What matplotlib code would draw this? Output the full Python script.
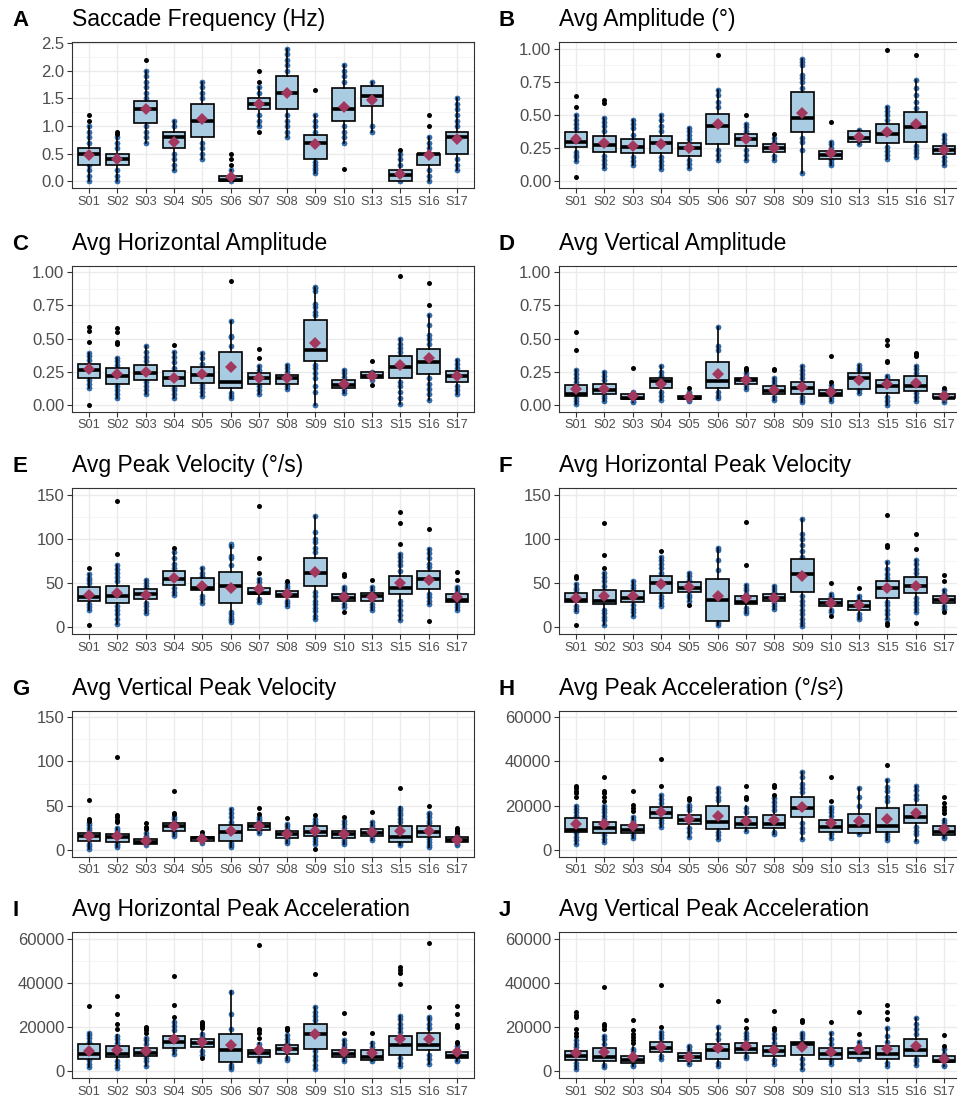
import matplotlib
matplotlib.use('Agg')
import matplotlib.pyplot as plt
import numpy as np
from matplotlib.ticker import MultipleLocator, FuncFormatter

plt.rcParams['font.family'] = ['Liberation Sans', 'DejaVu Sans']

subjects = ['S01', 'S02', 'S03', 'S04', 'S05', 'S06', 'S07', 'S08', 'S09', 'S10', 'S13', 'S15', 'S16', 'S17']

# ---------------- A: Saccade Frequency ----------------
A_q1 = [0.3, 0.3, 1.05, 0.6, 0.8, 0.0, 1.3, 1.3, 0.4, 1.1, 1.36, 0.0, 0.3, 0.5]
A_med = [0.5, 0.4, 1.3, 0.8, 1.1, 0.02, 1.4, 1.6, 0.7, 1.3, 1.55, 0.12, 0.5, 0.8]
A_q3 = [0.6, 0.5, 1.45, 0.9, 1.4, 0.1, 1.5, 1.9, 0.83, 1.68, 1.72, 0.2, 0.5, 0.9]
A_lo = [0.0, 0.0, 0.7, 0.2, 0.4, 0.0, 1.0, 0.8, 0.15, 0.7, 0.9, 0.0, 0.0, 0.2]
A_hi = [1.0, 0.8, 2.0, 1.1, 1.8, 0.2, 1.7, 2.4, 1.2, 2.1, 1.8, 0.5, 0.8, 1.5]
A_mean = [0.47, 0.40, 1.31, 0.71, 1.13, 0.07, 1.39, 1.60, 0.68, 1.35, 1.47, 0.13, 0.47, 0.76]
A_out = [[1.1, 1.2], [0.85, 0.9], [2.2], [], [], [0.3, 0.4, 0.5], [0.9, 1.8, 2.0], [], [1.65], [0.22], [], [0.57], [1.0, 1.2], []]
A_pts = [[0, 0.1, 0.2, 0.3, 0.7, 0.8, 0.9, 1.0], [0, 0.1, 0.2, 0.6, 0.7, 0.8],
         [0.7, 0.8, 0.9, 1.0, 1.5, 1.6, 1.7, 1.8, 1.9, 2.0], [0.2, 0.3, 0.4, 0.5, 1.0, 1.1],
         [0.4, 0.5, 0.6, 0.7, 1.5, 1.6, 1.7, 1.8], [0, 0.1, 0.2], [1.0, 1.1, 1.2, 1.6, 1.7],
         [0.8, 0.9, 1.0, 1.1, 1.2, 2.0, 2.1, 2.2, 2.3, 2.4], [0.15, 0.2, 0.25, 0.3, 0.35, 0.9, 1.0, 1.1, 1.2],
         [0.7, 0.8, 0.9, 1.0, 1.8, 1.9, 2.0, 2.1], [0.9, 1.0, 1.8], [0, 0.3, 0.4, 0.5],
         [0, 0.1, 0.2, 0.6, 0.7, 0.8], [0.2, 0.3, 0.4, 1.0, 1.1, 1.2, 1.3, 1.4, 1.5]]

# ---------------- B: Avg Amplitude ----------------
B_q1 = [0.26, 0.22, 0.21, 0.21, 0.19, 0.28, 0.27, 0.22, 0.37, 0.17, 0.30, 0.29, 0.30, 0.205]
B_med = [0.30, 0.275, 0.26, 0.29, 0.25, 0.42, 0.32, 0.25, 0.475, 0.20, 0.33, 0.36, 0.41, 0.235]
B_q3 = [0.37, 0.34, 0.32, 0.34, 0.29, 0.51, 0.355, 0.28, 0.67, 0.23, 0.38, 0.43, 0.525, 0.27]
B_lo = [0.15, 0.10, 0.12, 0.09, 0.10, 0.16, 0.16, 0.16, 0.06, 0.12, 0.28, 0.17, 0.18, 0.12]
B_hi = [0.50, 0.48, 0.46, 0.50, 0.40, 0.69, 0.43, 0.34, 0.92, 0.30, 0.39, 0.56, 0.76, 0.35]
B_mean = [0.32, 0.29, 0.27, 0.285, 0.25, 0.43, 0.32, 0.255, 0.515, 0.21, 0.335, 0.375, 0.43, 0.24]
B_out = [[0.03, 0.56, 0.64], [0.59, 0.61], [], [], [], [0.95], [0.50], [0.36], [], [0.45], [], [0.99], [0.95], []]
B_pts = [[0.15, 0.18, 0.2, 0.22, 0.4, 0.43, 0.46, 0.5], [0.1, 0.13, 0.16, 0.19, 0.38, 0.42, 0.45, 0.48],
         [0.12, 0.15, 0.18, 0.35, 0.4, 0.43, 0.46], [0.09, 0.12, 0.15, 0.18, 0.38, 0.42, 0.46, 0.5],
         [0.1, 0.13, 0.16, 0.32, 0.35, 0.38, 0.4], [0.16, 0.2, 0.24, 0.56, 0.6, 0.65, 0.69],
         [0.16, 0.2, 0.24, 0.38, 0.41, 0.43], [0.16, 0.19, 0.3, 0.33],
         [0.06, 0.24, 0.3, 0.33, 0.7, 0.75, 0.78, 0.8, 0.88, 0.9, 0.92], [0.12, 0.14, 0.16, 0.25, 0.28, 0.3],
         [0.28, 0.39], [0.17, 0.2, 0.23, 0.26, 0.46, 0.5, 0.53, 0.56],
         [0.18, 0.21, 0.24, 0.27, 0.55, 0.6, 0.65, 0.7, 0.76], [0.12, 0.15, 0.18, 0.29, 0.32, 0.35]]

# ---------------- C: Avg Horizontal Amplitude ----------------
C_q1 = [0.205, 0.16, 0.19, 0.145, 0.165, 0.125, 0.16, 0.16, 0.33, 0.13, 0.205, 0.20, 0.235, 0.175]
C_med = [0.26, 0.22, 0.24, 0.20, 0.225, 0.175, 0.20, 0.20, 0.41, 0.15, 0.22, 0.285, 0.32, 0.215]
C_q3 = [0.31, 0.275, 0.30, 0.255, 0.285, 0.40, 0.24, 0.225, 0.64, 0.19, 0.245, 0.37, 0.42, 0.255]
C_lo = [0.13, 0.05, 0.08, 0.05, 0.07, 0.05, 0.08, 0.12, 0.0, 0.09, 0.19, 0.01, 0.04, 0.08]
C_hi = [0.39, 0.35, 0.44, 0.40, 0.39, 0.63, 0.29, 0.30, 0.89, 0.26, 0.25, 0.50, 0.68, 0.34]
C_mean = [0.27, 0.235, 0.25, 0.20, 0.23, 0.285, 0.205, 0.20, 0.465, 0.16, 0.22, 0.30, 0.35, 0.215]
C_out = [[0.0, 0.47, 0.56, 0.59], [0.46, 0.47, 0.55, 0.58], [], [0.45], [], [0.93], [0.35, 0.42], [], [], [],
         [0.15, 0.33], [0.97], [0.75, 0.92], []]
C_pts = [[0.13, 0.16, 0.19, 0.34, 0.37, 0.39], [0.05, 0.08, 0.11, 0.14, 0.3, 0.33, 0.35],
         [0.08, 0.11, 0.14, 0.17, 0.33, 0.36, 0.4, 0.44], [0.05, 0.08, 0.11, 0.13, 0.28, 0.32, 0.36, 0.4],
         [0.07, 0.1, 0.13, 0.15, 0.31, 0.35, 0.39], [0.05, 0.07, 0.09, 0.44, 0.51, 0.52, 0.63],
         [0.08, 0.11, 0.14, 0.26, 0.29], [0.12, 0.14, 0.25, 0.28, 0.3],
         [0.0, 0.1, 0.14, 0.2, 0.24, 0.28, 0.3, 0.68, 0.7, 0.74, 0.76, 0.86, 0.88, 0.89],
         [0.09, 0.11, 0.21, 0.24, 0.26], [0.19, 0.25], [0.01, 0.05, 0.1, 0.14, 0.17, 0.4, 0.43, 0.46, 0.5],
         [0.04, 0.08, 0.12, 0.16, 0.2, 0.46, 0.5, 0.53, 0.6, 0.68], [0.08, 0.11, 0.14, 0.28, 0.31, 0.34]]

# ---------------- D: Avg Vertical Amplitude ----------------
D_q1 = [0.065, 0.08, 0.045, 0.13, 0.045, 0.13, 0.16, 0.085, 0.085, 0.065, 0.12, 0.09, 0.105, 0.05]
D_med = [0.085, 0.11, 0.055, 0.18, 0.05, 0.18, 0.19, 0.105, 0.13, 0.08, 0.205, 0.14, 0.14, 0.055]
D_q3 = [0.15, 0.16, 0.085, 0.20, 0.07, 0.32, 0.20, 0.14, 0.17, 0.11, 0.24, 0.185, 0.22, 0.085]
D_lo = [0.01, 0.03, 0.02, 0.04, 0.03, 0.05, 0.12, 0.04, 0.02, 0.03, 0.09, 0.0, 0.03, 0.02]
D_hi = [0.26, 0.25, 0.10, 0.29, 0.10, 0.59, 0.24, 0.20, 0.29, 0.15, 0.30, 0.22, 0.29, 0.11]
D_mean = [0.12, 0.12, 0.065, 0.16, 0.06, 0.235, 0.185, 0.115, 0.135, 0.095, 0.185, 0.16, 0.165, 0.065]
D_out = [[0.41, 0.55], [], [0.28], [], [0.13], [], [0.26, 0.27, 0.28], [0.26, 0.27], [], [0.17, 0.37], [],
         [0.32, 0.33, 0.45, 0.49], [0.37, 0.38, 0.39], [0.13]]
D_pts = [[0.01, 0.03, 0.05, 0.17, 0.2, 0.23, 0.26], [0.03, 0.05, 0.07, 0.19, 0.22, 0.25], [0.02, 0.03, 0.09, 0.1],
         [0.04, 0.07, 0.1, 0.22, 0.25, 0.29], [0.03, 0.04, 0.08, 0.1], [0.05, 0.07, 0.1, 0.41, 0.44, 0.59],
         [0.12, 0.14, 0.22, 0.24], [0.04, 0.06, 0.16, 0.18, 0.2], [0.02, 0.04, 0.06, 0.2, 0.23, 0.26, 0.29],
         [0.03, 0.05, 0.13, 0.15], [0.09, 0.11, 0.26, 0.28, 0.3], [0.0, 0.03, 0.06, 0.2, 0.22],
         [0.03, 0.06, 0.09, 0.24, 0.27, 0.29], [0.02, 0.04, 0.09, 0.11]]

# ---------------- E: Avg Peak Velocity ----------------
E_q1 = [30, 28, 31.6, 48.4, 42, 28, 37.2, 34.6, 46.5, 29.8, 30, 37.2, 43.9, 29]
E_med = [34.6, 35, 38, 55, 44.7, 46.5, 39, 37, 61, 33, 35, 45, 55, 31]
E_q3 = [45.8, 46.5, 43.9, 63.6, 55.8, 62.5, 44.7, 41.3, 78.5, 37.6, 39, 57.7, 63.6, 37.6]
E_lo = [20, 4, 16, 37, 28, 6, 29, 24, 10, 23, 20, 8, 26, 20]
E_hi = [60, 70, 53, 85, 67, 93, 55, 50, 126, 46, 46, 83, 89, 46]
E_mean = [37, 39, 37, 56, 47, 44.5, 43, 37.5, 63, 34, 34.5, 50, 53, 34]
E_out = [[3, 67], [83, 143], [], [90], [], [], [61, 78, 137], [52], [], [17, 58, 60], [53], [94, 118, 130],
         [7, 111], [53, 63]]
E_pts = [[20, 23, 26, 50, 53, 56, 60], [4, 10, 15, 20, 24, 52, 57, 62, 66, 70], [16, 20, 24, 28, 47, 50, 53],
         [37, 40, 44, 67, 72, 78, 85], [28, 32, 36, 58, 62, 67], [6, 8, 10, 12, 15, 17, 70, 78, 81, 92, 94],
         [29, 32, 47, 51, 55], [24, 27, 30, 44, 47, 50], [10, 13, 18, 22, 26, 30, 35, 40, 85, 90, 96, 100, 108, 126],
         [23, 26, 40, 43, 46], [20, 23, 26, 42, 46], [8, 14, 20, 25, 30, 64, 70, 75, 80, 83],
         [26, 30, 34, 38, 68, 72, 78, 84, 89], [20, 23, 26, 40, 43, 46]]

# ---------------- F: Avg Horizontal Peak Velocity ----------------
F_q1 = [28.3, 26, 29, 39, 40.2, 6.7, 26, 29.8, 40.2, 24.5, 19.7, 33.5, 38.3, 28]
F_med = [31, 30, 33, 50, 45, 31, 29, 33, 60, 28, 24, 44, 47, 31]
F_q3 = [39, 42, 41, 57.7, 51.4, 55, 35.4, 37.6, 76.7, 32, 30, 52, 57, 35.7]
F_lo = [18, 3, 13, 24, 30, 3, 16, 21, 2, 17, 9, 10, 17, 21]
F_hi = [49, 62, 52, 80, 62, 90, 48, 47, 122, 38, 35, 74, 76, 42]
F_mean = [33.5, 35, 36, 48.5, 45.5, 35, 33, 33.5, 58.5, 28, 25, 45, 47, 32]
F_out = [[3, 56, 58], [67, 82, 118], [], [86], [25], [], [70, 119], [], [], [13, 50], [44],
         [3, 5, 91, 93, 127], [5, 88, 105], [17, 52, 59]]
F_pts = [[18, 21, 24, 42, 45, 49], [3, 8, 12, 16, 20, 47, 52, 57, 62], [13, 17, 21, 25, 44, 48, 52],
         [24, 28, 32, 35, 62, 67, 72, 76, 80], [30, 34, 37, 54, 58, 62], [3, 5, 65, 76, 87, 90],
         [16, 19, 22, 38, 42, 45, 48], [21, 24, 27, 40, 43, 47], [2, 5, 10, 15, 20, 25, 30, 35, 80, 86, 93, 100, 106, 122],
         [17, 20, 34, 36, 38], [9, 12, 15, 32, 35], [10, 15, 20, 25, 29, 56, 60, 66, 74],
         [17, 21, 25, 29, 33, 62, 66, 72, 76], [21, 24, 38, 42]]

# ---------------- G: Avg Vertical Peak Velocity ----------------
G_q1 = [10.5, 8.6, 6.8, 21.8, 9.8, 9.8, 22.9, 13.5, 15.4, 13.5, 15.4, 9.4, 14.3, 8.6]
G_med = [16, 14, 8.6, 27, 13, 20, 27, 17.5, 20.5, 18, 19, 14, 20, 11]
G_q3 = [19, 18, 12.4, 30.4, 15, 28.5, 30.4, 21.8, 26.6, 21.8, 23.6, 27.4, 26.6, 14.3]
G_lo = [1, 3, 5, 16, 8, 3, 19, 8, 7, 7, 11, 6, 3, 6]
G_hi = [30, 25, 19, 37, 17, 46, 37, 29, 35, 33, 31, 48, 42, 17]
G_mean = [16, 16, 10.5, 26.5, 12.5, 21, 27, 17.5, 21, 18, 20.5, 21, 21, 11.5]
G_out = [[33, 35, 56], [32, 34, 37, 39, 105], [24, 26, 30], [40, 42, 66], [20], [], [40, 47], [36], [1, 39],
         [37], [43], [70], [50], [19, 21, 23, 25]]
G_pts = [[1, 4, 7, 22, 25, 28, 30], [3, 5, 7, 20, 22, 25], [5, 14, 16, 19], [16, 18, 20, 32, 35, 37], [8, 16, 17],
         [3, 5, 8, 32, 37, 42, 46], [19, 21, 33, 35, 37], [8, 10, 12, 24, 27, 29], [7, 10, 13, 29, 32, 35],
         [7, 9, 11, 25, 29, 33], [11, 13, 26, 28, 31], [6, 8, 31, 35, 39, 42, 45, 47],
         [3, 6, 9, 12, 30, 33, 37, 40, 42], [6, 7, 15, 17]]

# ---------------- H: Avg Peak Acceleration ----------------
H_q1 = [8250, 7650, 7650, 14250, 11700, 9450, 9900, 9750, 14700, 8250, 7650, 8250, 12150, 6900]
H_med = [9000, 9750, 9000, 16500, 13500, 12500, 11500, 11500, 19000, 10500, 11000, 11000, 15000, 8000]
H_q3 = [14250, 12750, 11250, 19500, 15900, 20000, 15000, 15750, 23700, 13650, 16200, 18900, 20250, 10650]
H_lo = [2500, 3500, 5500, 10500, 6000, 5000, 8500, 7000, 5000, 5500, 7000, 4500, 4000, 5500]
H_hi = [20000, 20000, 15000, 25000, 20500, 28000, 20000, 23500, 35000, 19500, 28000, 31500, 29000, 14000]
H_mean = [11700, 11700, 10800, 17250, 13950, 15300, 13000, 13500, 19200, 12000, 13200, 14000, 16700, 9500]
H_out = [[24000, 25500, 26500, 28000, 29000], [22000, 24000, 25500, 26500, 33000], [17500, 19000, 20500, 26500],
         [29000, 41000], [22500, 23500], [], [23000, 24000, 29000], [25000, 28500, 29500], [], [22000, 33000], [],
         [38500], [], [16500, 18000, 19500, 21000, 24000]]
H_pts = [[2500, 4500, 6000, 7500, 15500, 17000, 18500, 20000], [3500, 5000, 6500, 14000, 15500, 17000, 18500, 20000],
         [5500, 6500, 12500, 13500, 15000], [10500, 12000, 13500, 21000, 23000, 25000],
         [6000, 8000, 10000, 18000, 19500, 20500], [5000, 6500, 8000, 22500, 24000, 26000, 28000],
         [8500, 17000, 19000], [7000, 8000, 18000, 20000, 21500, 23500],
         [5000, 8000, 10000, 12000, 26000, 28000, 30000, 33000, 35000], [5500, 7000, 15500, 17000, 18500, 19500],
         [7000, 20000, 24000, 28000], [4500, 6000, 7000, 22000, 24000, 26500, 28500, 31500],
         [4000, 7000, 8500, 10500, 23000, 25000, 27000, 29000], [5500, 6000, 12000, 13500]]

# ---------------- I: Avg Horizontal Peak Acceleration ----------------
I_q1 = [5700, 6450, 6750, 10500, 10950, 4050, 6300, 7800, 10200, 6450, 5250, 7500, 9750, 6000]
I_med = [7800, 7800, 8400, 13200, 12750, 9750, 8250, 10000, 16800, 8000, 6600, 12000, 11800, 7000]
I_q3 = [12300, 11550, 10500, 16200, 14550, 17000, 9750, 11700, 21450, 9750, 9750, 16200, 17550, 8700]
I_lo = [2000, 1500, 2500, 8000, 7500, 1000, 4500, 5000, 1000, 4500, 4500, 2500, 3500, 4500]
I_hi = [17500, 16500, 15000, 23000, 18000, 36500, 13000, 16500, 29000, 14000, 13500, 25000, 24500, 12500]
I_mean = [9300, 9500, 9300, 14700, 13050, 11700, 9450, 10050, 16800, 8700, 8250, 14500, 14500, 8700]
I_out = [[29500], [19000, 21500, 26000, 34000], [17500, 18500, 19500, 20000], [24500, 30000, 43000],
         [6000, 19500, 20500, 21500, 22500], [], [15000, 17500, 18500, 19000, 57000], [18500, 19000, 19500, 19800],
         [44000], [17500, 26500], [17500], [39500, 44500, 46000, 47000], [29000, 58000],
         [13000, 13500, 20000, 21000, 26000, 29500]]
I_pts = [[2000, 3500, 5000, 13500, 15000, 16500, 17500], [1500, 3000, 4500, 13000, 14500, 16000],
         [2500, 4500, 6000, 12500, 14000, 15000], [8000, 9500, 18500, 20500, 22500], [7500, 9000, 15500, 17000],
         [1000, 2000, 3000, 19000, 26000, 36000], [4500, 5500, 11000, 12500], [5000, 6000, 13000, 14500, 16500],
         [1000, 3000, 5000, 7000, 9000, 23000, 25000, 27000, 29000], [4500, 5500, 11000, 12500, 14000],
         [4500, 11000, 13000], [2500, 4000, 6000, 18000, 19500, 21500, 23500, 25000],
         [3500, 5500, 7500, 19500, 21500, 23500, 24500], [4500, 5000, 10000, 11500]]

# ---------------- J: Avg Vertical Peak Acceleration ----------------
J_q1 = [5250, 4500, 3750, 8550, 4800, 5700, 8250, 6750, 7200, 5700, 6000, 5700, 6750, 4050]
J_med = [7000, 6300, 5000, 10500, 6300, 9750, 10000, 9000, 12300, 8000, 8500, 7800, 9800, 4500]
J_q3 = [9000, 10500, 7050, 13200, 8250, 12300, 12750, 11250, 13200, 10500, 10500, 11250, 14700, 6750]
J_lo = [1000, 2000, 2500, 5500, 3500, 2500, 6000, 3500, 1000, 3500, 5500, 2500, 3000, 2500]
J_hi = [14000, 16000, 11000, 18000, 11500, 20000, 18000, 17000, 17500, 17500, 13500, 19500, 24000, 10000]
J_mean = [8250, 8550, 6450, 11200, 6600, 10500, 11550, 9750, 11000, 8700, 10200, 10000, 11550, 5700]
J_out = [[16000, 17500, 19000, 24500, 25500, 27000], [19000, 20500, 21500, 38000],
         [13000, 14000, 15500, 17000, 18500, 23000], [20000, 39000], [], [32000], [19500, 23000],
         [18500, 19500, 27500], [22500, 23000], [22500], [17000, 27000], [23500, 27000, 30000], [], [11500, 16500]]
J_pts = [[1000, 2500, 4000, 11000, 12500, 14000], [2000, 3000, 12500, 14500, 16000], [2500, 3000, 9000, 10000],
         [5500, 7000, 15000, 16500, 18000], [3500, 4000, 9500, 11000, 11500], [2500, 4000, 14500, 17000, 20000],
         [6000, 7000, 14500, 16000, 17500], [3500, 5000, 13000, 15000, 17000], [1000, 3500, 5500, 15000, 16500, 17500],
         [3500, 4500, 12500, 14500, 17500], [5500, 12000, 13500], [2500, 4000, 13500, 16000, 19500],
         [3000, 4500, 5500, 17000, 19000, 21500, 24000], [2500, 3000, 8000, 10000]]

titles = ['Saccade Frequency (Hz)', 'Avg Amplitude (°)', 'Avg Horizontal Amplitude', 'Avg Vertical Amplitude',
          'Avg Peak Velocity (°/s)', 'Avg Horizontal Peak Velocity', 'Avg Vertical Peak Velocity',
          'Avg Peak Acceleration (°/s²)', 'Avg Horizontal Peak Acceleration', 'Avg Vertical Peak Acceleration']
letters = ['A', 'B', 'C', 'D', 'E', 'F', 'G', 'H', 'I', 'J']

panels = [
    (A_q1, A_med, A_q3, A_lo, A_hi, A_mean, A_out, A_pts),
    (B_q1, B_med, B_q3, B_lo, B_hi, B_mean, B_out, B_pts),
    (C_q1, C_med, C_q3, C_lo, C_hi, C_mean, C_out, C_pts),
    (D_q1, D_med, D_q3, D_lo, D_hi, D_mean, D_out, D_pts),
    (E_q1, E_med, E_q3, E_lo, E_hi, E_mean, E_out, E_pts),
    (F_q1, F_med, F_q3, F_lo, F_hi, F_mean, F_out, F_pts),
    (G_q1, G_med, G_q3, G_lo, G_hi, G_mean, G_out, G_pts),
    (H_q1, H_med, H_q3, H_lo, H_hi, H_mean, H_out, H_pts),
    (I_q1, I_med, I_q3, I_lo, I_hi, I_mean, I_out, I_pts),
    (J_q1, J_med, J_q3, J_lo, J_hi, J_mean, J_out, J_pts),
]

fmt1 = FuncFormatter(lambda v, p: f'{v:.1f}')
fmt2 = FuncFormatter(lambda v, p: f'{v:.2f}')
fmt0 = FuncFormatter(lambda v, p: f'{v:.0f}')
axis_cfg = [(-0.12, 2.52, 0.5, fmt1), (-0.05, 1.05, 0.25, fmt2), (-0.05, 1.05, 0.25, fmt2), (-0.05, 1.05, 0.25, fmt2),
            (-7.5, 157.5, 50, fmt0), (-7.5, 157.5, 50, fmt0), (-7.5, 157.5, 50, fmt0),
            (-3000, 63000, 20000, fmt0), (-3000, 63000, 20000, fmt0), (-3000, 63000, 20000, fmt0)]

W, H = 957, 1101
fig = plt.figure(figsize=(W / 100, H / 100), dpi=100)
col_left = [72, 559]
row_top = [42, 265.5, 488, 710.5, 932]
ax_w, ax_h = 402, 146

box_fill = '#A9CCE2'
pt_color = '#2F6DB3'
mean_color = '#A3385F'
xs = np.arange(1, len(subjects) + 1)

for i, (q1, med, q3, lo, hi, mean, out, pts) in enumerate(panels):
    r, c = divmod(i, 2)
    left = col_left[c] / W
    bottom = 1 - (row_top[r] + ax_h) / H
    ax = fig.add_axes([left, bottom, ax_w / W, ax_h / H])
    ymin, ymax, step, fmt = axis_cfg[i]

    for j, p in enumerate(pts):
        ax.scatter(np.full(len(p), xs[j]), p, s=14, color=pt_color, edgecolors='#1E4F8A',
                   linewidths=0.3, zorder=2)

    stats = [dict(q1=q1[j], med=med[j], q3=q3[j], whislo=lo[j], whishi=hi[j], fliers=[])
             for j in range(len(subjects))]
    ax.bxp(stats, positions=xs, widths=0.8, showcaps=False, showfliers=False, patch_artist=True,
           boxprops=dict(facecolor=box_fill, edgecolor='black', linewidth=1.2),
           medianprops=dict(color='black', linewidth=2.6, solid_capstyle='butt'),
           whiskerprops=dict(color='black', linewidth=1.2), zorder=3)

    for j, o in enumerate(out):
        if o:
            ax.plot(np.full(len(o), xs[j]), o, 'o', color='black', ms=3.6, mew=0, zorder=4)

    ax.plot(xs, mean, 'D', color=mean_color, ms=6.5, mew=0, zorder=5, linestyle='none')

    ax.set_xlim(0.4, len(subjects) + 0.6)
    ax.set_ylim(ymin, ymax)
    ax.set_xticks(xs)
    ax.set_xticklabels(subjects)
    ax.yaxis.set_major_locator(MultipleLocator(step))
    ax.yaxis.set_minor_locator(MultipleLocator(step / 2))
    ax.yaxis.set_major_formatter(fmt)
    ax.grid(True, which='major', color='#EBEBEB', linewidth=1.0, zorder=0)
    ax.grid(True, which='minor', axis='y', color='#F3F3F3', linewidth=0.6, zorder=0)
    ax.set_axisbelow(True)
    ax.tick_params(which='major', length=3.5, width=0.8, color='#333333', labelcolor='#4D4D4D')
    ax.tick_params(axis='y', labelsize=12, pad=2)
    ax.tick_params(axis='x', labelsize=9.2, pad=2)
    ax.tick_params(which='minor', length=0)
    for s in ax.spines.values():
        s.set_color('#333333')
        s.set_linewidth(0.8)

    ax.annotate(titles[i], xy=(0, 1), xycoords='axes fraction', xytext=(0, 11.5),
                textcoords='offset points', ha='left', va='baseline', fontsize=16.5, color='black')
    ax.annotate(letters[i], xy=(0, 1), xycoords='axes fraction', xytext=(-60 * 0.72, 11.5),
                textcoords='offset points', ha='left', va='baseline', fontsize=16, fontweight='bold',
                color='black')

fig.savefig('out.png', dpi=100)
